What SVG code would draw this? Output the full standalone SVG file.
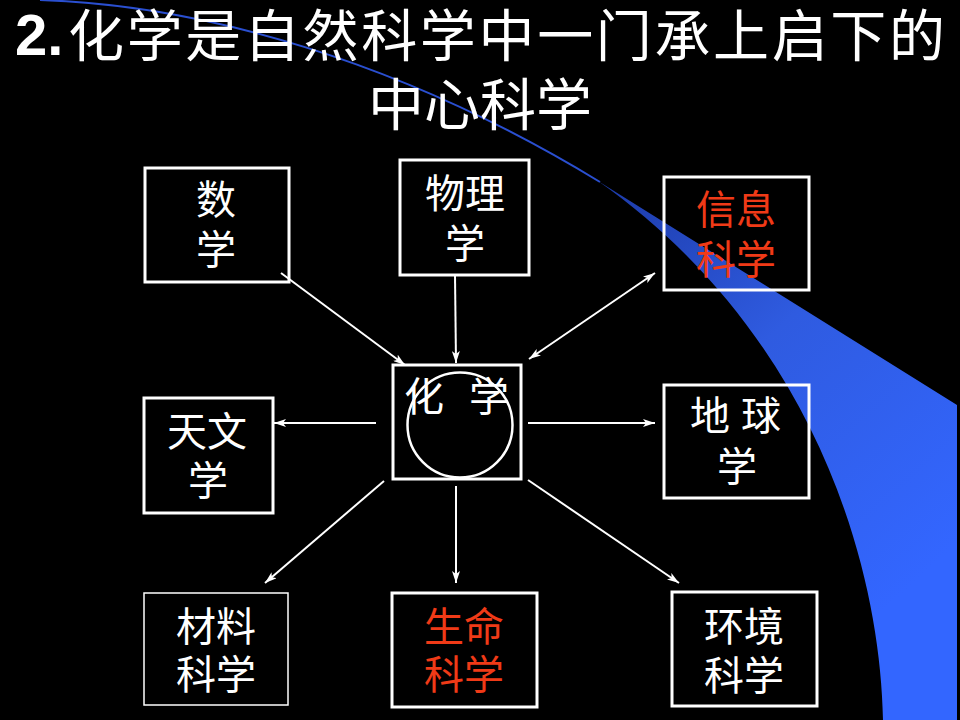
<svg xmlns="http://www.w3.org/2000/svg" width="960" height="720" viewBox="0 0 960 720">
<defs>
<linearGradient id="blue" gradientUnits="userSpaceOnUse" x1="600" y1="180" x2="940" y2="560">
<stop offset="0" stop-color="#1c3aa8"/>
<stop offset="0.45" stop-color="#2f5be0"/>
<stop offset="1" stop-color="#3366ff"/>
</linearGradient>
<marker id="ah" viewBox="0 0 12 8" refX="12" refY="4" markerWidth="12" markerHeight="8" markerUnits="userSpaceOnUse" orient="auto-start-reverse">
<path d="M0,0 L12,4 L0,8 L3,4 z" fill="#ffffff"/>
</marker>
<style>
.box{fill:none;stroke:#ffffff;stroke-width:3}
.thin{fill:none;stroke:#ffffff;stroke-width:1.5}
.t{font-family:"Noto Sans CJK SC","Noto Sans CJK JP",sans-serif;font-size:40px;fill:#ffffff;text-anchor:middle}
.red{fill:#f03a17}
.ttl{font-family:"Noto Sans CJK SC","Noto Sans CJK JP",sans-serif;font-size:56px;fill:#ffffff}
.c{fill:none;stroke:#ffffff;stroke-width:2;marker-end:url(#ah)}
</style>
</defs>
<rect x="0" y="0" width="960" height="720" fill="#000000"/>
<g id="swoosh">
<path d="M40,0 C200,5 400,60 600,182" fill="none" stroke="#2a4fd0" stroke-width="2"/>
<path d="M598,181 L957,405 L957,720 L883,720 C880,560 810,330 598,181 z" fill="url(#blue)"/>
</g>
<g id="title">
<text x="15" y="55" font-family="'Liberation Sans',Arial,sans-serif" font-weight="bold" font-size="58" fill="#ffffff">2.</text>
<text class="ttl" x="68" y="56" textLength="877" lengthAdjust="spacing">化学是自然科学中一门承上启下的</text>
<text class="ttl" x="480" y="125" text-anchor="middle">中心科学</text>
</g>
<g id="connectors">
<line class="c" x1="281" y1="273" x2="405" y2="365"/>
<line class="c" x1="455" y1="275" x2="456" y2="363"/>
<line class="c" x1="529" y1="359" x2="655" y2="273" style="marker-start:url(#ah)"/>
<line class="c" x1="376" y1="423" x2="274" y2="423"/>
<line class="c" x1="528" y1="423" x2="655" y2="423"/>
<line class="c" x1="384" y1="481" x2="265" y2="583"/>
<line class="c" x1="456" y1="486" x2="456" y2="583"/>
<line class="c" x1="528" y1="480" x2="679" y2="583"/>
</g>
<g id="n-math">
<rect class="box" x="145" y="168" width="144" height="114"/>
<text class="t" x="216" y="214">数</text>
<text class="t" x="216" y="264">学</text>
</g>
<g id="n-physics">
<rect class="box" x="400" y="160" width="129" height="115"/>
<text class="t" x="465" y="208">物理</text>
<text class="t" x="465" y="258">学</text>
</g>
<g id="n-info">
<rect class="box" x="664" y="177" width="145" height="113"/>
<text class="t red" x="736" y="224">信息</text>
<text class="t red" x="736" y="274">科学</text>
</g>
<g id="n-chem">
<rect class="box" x="393" y="365" width="128" height="114"/>
<circle cx="460" cy="425" r="52.5" fill="none" stroke="#ffffff" stroke-width="2.5"/>
<text class="t" x="424" y="411">化</text>
<text class="t" x="489" y="411">学</text>
</g>
<g id="n-astro">
<rect class="box" x="144" y="398" width="129" height="115"/>
<text class="t" x="207" y="446">天文</text>
<text class="t" x="208" y="495">学</text>
</g>
<g id="n-earth">
<rect class="box" x="664" y="385" width="145" height="113"/>
<text class="t" x="710" y="430">地</text>
<text class="t" x="761" y="430">球</text>
<text class="t" x="737" y="481">学</text>
</g>
<g id="n-material">
<rect class="thin" x="144" y="593" width="144" height="112"/>
<text class="t" x="216" y="641">材料</text>
<text class="t" x="216" y="689">科学</text>
</g>
<g id="n-life">
<rect class="box" x="392" y="593" width="145" height="114"/>
<text class="t red" x="464" y="641">生命</text>
<text class="t red" x="464" y="689">科学</text>
</g>
<g id="n-env">
<rect class="box" x="672" y="592" width="145" height="114"/>
<text class="t" x="744" y="641">环境</text>
<text class="t" x="744" y="690">科学</text>
</g>
</svg>
